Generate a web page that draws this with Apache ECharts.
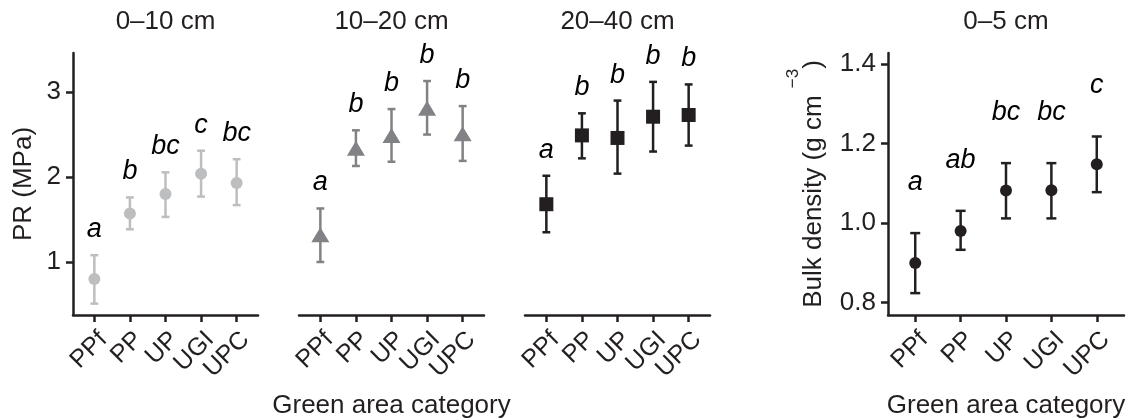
<!DOCTYPE html>
<html><head><meta charset="utf-8">
<script src="https://cdn.jsdelivr.net/npm/echarts@6/dist/echarts.min.js"></script>
<style>html,body{margin:0;padding:0;background:#fff}#c{width:1129px;height:420px}</style>
</head><body><div id="c"></div>
<script>
// ---- data ----
const categories = ['PPf', 'PP', 'UP', 'UGI', 'UPC'];

const pr0to10Mean   = [0.80, 1.57, 1.80, 2.04, 1.93];
const pr0to10Lower  = [0.51, 1.385, 1.53, 1.77, 1.67];
const pr0to10Upper  = [1.08, 1.76, 2.055, 2.31, 2.21];
const pr0to10Letters = ['a', 'b', 'bc', 'c', 'bc'];

const pr10to20Mean  = [1.32, 2.34, 2.49, 2.81, 2.51];
const pr10to20Lower = [1.00, 2.13, 2.18, 2.50, 2.19];
const pr10to20Upper = [1.63, 2.55, 2.80, 3.13, 2.835];
const pr10to20Letters = ['a', 'b', 'b', 'b', 'b'];

const pr20to40Mean  = [1.68, 2.49, 2.46, 2.71, 2.73];
const pr20to40Lower = [1.35, 2.22, 2.04, 2.30, 2.37];
const pr20to40Upper = [2.015, 2.75, 2.90, 3.12, 3.09];
const pr20to40Letters = ['a', 'b', 'b', 'b', 'b'];

const bdMean  = [0.90, 0.98, 1.082, 1.083, 1.148];
const bdLower = [0.824, 0.933, 1.012, 1.012, 1.078];
const bdUpper = [0.975, 1.031, 1.151, 1.151, 1.218];
const bdLetters = ['a', 'ab', 'bc', 'bc', 'c'];

const prTicks = [1, 2, 3];
const bdTicks = [0.8, 1.0, 1.2, 1.4];

// ---- styling / layout ----
const FONT = '"Liberation Sans", Arial, Helvetica, sans-serif';
const INK = '#231f20';
const panels = [
  { title: '0–10 cm', mean: pr0to10Mean, lower: pr0to10Lower, upper: pr0to10Upper, letters: pr0to10Letters,
    color: '#bcbec0', symbol: 'circle', size: 12, grid: { left: 73, top: 53, width: 185, height: 262 },
    ymin: 0.376, ymax: 3.46, yticks: prTicks, showY: true, yname: 'PR (MPa)', yGap: 36, xname: '', letterDist: 12, fmt: v => String(v) },
  { title: '10–20 cm', mean: pr10to20Mean, lower: pr10to20Lower, upper: pr10to20Upper, letters: pr10to20Letters,
    color: '#808285', symbol: 'triangle', size: [18, 15], grid: { left: 299, top: 53, width: 185, height: 262 },
    ymin: 0.376, ymax: 3.46, yticks: prTicks, showY: false, xname: 'Green area category', letterDist: 12 },
  { title: '20–40 cm', mean: pr20to40Mean, lower: pr20to40Lower, upper: pr20to40Upper, letters: pr20to40Letters,
    color: INK, symbol: 'rect', size: 14, grid: { left: 525, top: 53, width: 185, height: 262 },
    ymin: 0.376, ymax: 3.46, yticks: prTicks, showY: false, xname: '', letterDist: 12 },
  { title: '0–5 cm', mean: bdMean, lower: bdLower, upper: bdUpper, letters: bdLetters,
    color: INK, symbol: 'circle', size: 12, grid: { left: 888, top: 53, width: 236, height: 262 },
    ymin: 0.769, ymax: 1.428, yticks: bdTicks, showY: true,
    yname: '{m|Bulk density (g cm }{s|−3}{m|)}', yGap: 46, xname: 'Green area category', letterDist: 37, fmt: v => v.toFixed(1) }
];

const xPos = [1, 2, 3, 4, 5];
const option = { animation: false, backgroundColor: '#fff', title: [], grid: [], xAxis: [], yAxis: [], series: [] };

panels.forEach((p, i) => {
  const gx = p.grid.left + p.grid.width / 2;
  option.title.push({ text: p.title, left: gx, top: 9, textAlign: 'center', padding: 0,
    textStyle: { fontFamily: FONT, fontSize: 26, fontWeight: 'normal', color: INK } });
  option.grid.push(Object.assign({ containLabel: false, outerBoundsMode: 'none' }, p.grid));
  option.xAxis.push({
    type: 'value', gridIndex: i, min: 0.4, max: 5.6,
    splitLine: { show: false },
    axisLine: { show: true, onZero: false, lineStyle: { color: INK, width: 2.5 } },
    axisTick: { show: true, customValues: xPos, length: 7, lineStyle: { color: INK, width: 2.5 } },
    axisLabel: { customValues: xPos, formatter: v => categories[Math.round(v) - 1], rotate: 45, margin: 12,
      align: 'right', verticalAlign: 'top',
      fontFamily: FONT, fontSize: 25, color: INK },
    name: p.xname, nameLocation: 'middle', nameGap: 78,
    nameTextStyle: { fontFamily: FONT, fontSize: 26, color: INK }
  });
  const y = { type: 'value', gridIndex: i, min: p.ymin, max: p.ymax, show: p.showY, splitLine: { show: false } };
  if (p.showY) {
    Object.assign(y, {
      axisLine: { show: true, onZero: false, lineStyle: { color: INK, width: 2.5 } },
      axisTick: { show: true, customValues: p.yticks, length: 7, lineStyle: { color: INK, width: 2.5 } },
      axisLabel: { customValues: p.yticks, formatter: p.fmt, margin: 12, fontFamily: FONT, fontSize: 26, color: INK },
      name: p.yname, nameLocation: 'middle', nameGap: p.yGap,
      nameTextStyle: { fontFamily: FONT, fontSize: 26, color: INK,
        rich: { m: { fontFamily: FONT, fontSize: 26, color: INK, lineHeight: 57 },
                s: { fontFamily: FONT, fontSize: 17, color: INK, verticalAlign: 'top', lineHeight: 17 } } }
    });
  }
  option.yAxis.push(y);

  const color = p.color;
  option.series.push({
    type: 'custom', xAxisIndex: i, yAxisIndex: i, silent: true, z: 2,
    data: categories.map((c, k) => [xPos[k], p.lower[k], p.upper[k]]),
    encode: { x: 0, y: [1, 2] },
    renderItem: (params, api) => {
      const x = api.value(0);
      const lo = api.coord([x, api.value(1)]);
      const hi = api.coord([x, api.value(2)]);
      const hw = (api.coord([x + 0.11, api.value(1)])[0] - api.coord([x - 0.11, api.value(1)])[0]) / 2;
      const st = { stroke: color, lineWidth: 2.5 };
      return { type: 'group', children: [
        { type: 'line', shape: { x1: lo[0], y1: lo[1], x2: hi[0], y2: hi[1] }, style: st },
        { type: 'line', shape: { x1: lo[0] - hw, y1: lo[1], x2: lo[0] + hw, y2: lo[1] }, style: st },
        { type: 'line', shape: { x1: hi[0] - hw, y1: hi[1], x2: hi[0] + hw, y2: hi[1] }, style: st }
      ] };
    }
  });
  option.series.push({
    type: 'scatter', xAxisIndex: i, yAxisIndex: i, z: 3, silent: true,
    symbol: p.symbol, symbolSize: p.size, itemStyle: { color: color, opacity: 1 },
    data: categories.map((c, k) => [xPos[k], p.mean[k]])
  });
  option.series.push({
    type: 'scatter', xAxisIndex: i, yAxisIndex: i, z: 4, silent: true,
    symbol: 'circle', symbolSize: 0.1, itemStyle: { color: 'transparent' },
    data: categories.map((c, k) => [xPos[k], p.upper[k]]),
    label: { show: true, position: 'top', distance: p.letterDist, formatter: (d) => p.letters[d.dataIndex],
      fontFamily: FONT, fontSize: 27, fontStyle: 'italic', color: '#000', opacity: 1 }
  });
});

const chart = echarts.init(document.getElementById('c'), null, { renderer: 'canvas' });
chart.setOption(option);
</script>
</body></html>
